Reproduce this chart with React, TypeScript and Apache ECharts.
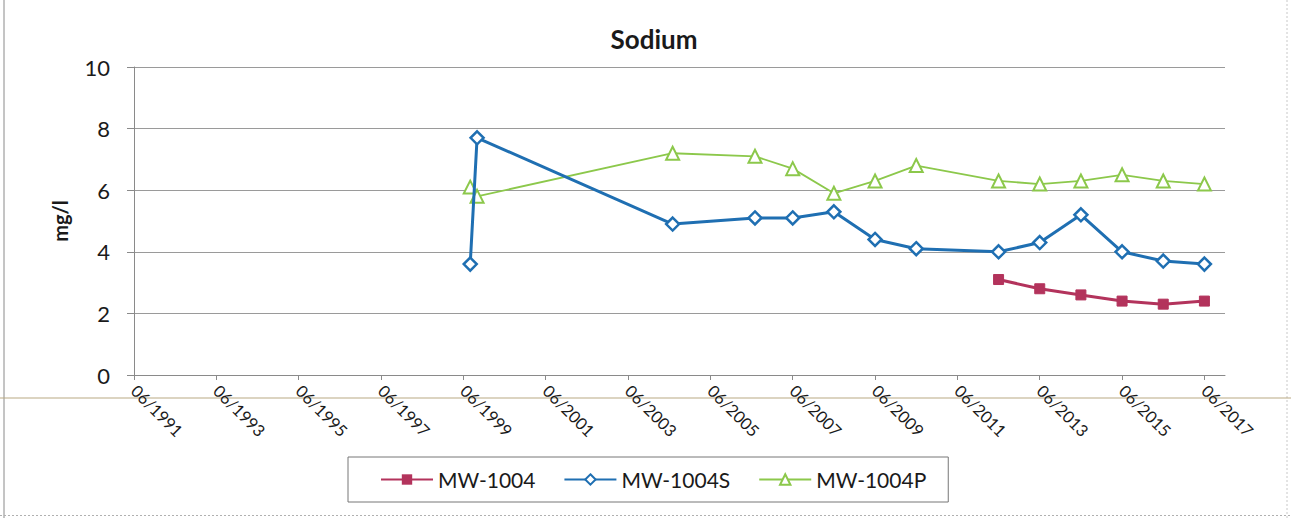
import React, { useEffect, useRef } from "react";
import * as echarts from "echarts";

const yTicks = [0, 2, 4, 6, 8, 10];
const xStartYear = 1991;
const xTickYears = [1991, 1993, 1995, 1997, 1999, 2001, 2003, 2005, 2007, 2009, 2011, 2013, 2015, 2017];
const xAxisEnd = "2017-12";

const mw1004Dates = ["2012-06", "2013-06", "2014-06", "2015-06", "2016-06", "2017-06"];
const mw1004Values = [3.1, 2.8, 2.6, 2.4, 2.3, 2.4];

const mw1004SDates = ["1999-08", "1999-10", "2004-07", "2006-07", "2007-06", "2008-06", "2009-06", "2010-06", "2012-06", "2013-06", "2014-06", "2015-06", "2016-06", "2017-06"];
const mw1004SValues = [3.6, 7.7, 4.9, 5.1, 5.1, 5.3, 4.4, 4.1, 4.0, 4.3, 5.2, 4.0, 3.7, 3.6];

const mw1004PDates = ["1999-08", "1999-10", "2004-07", "2006-07", "2007-06", "2008-06", "2009-06", "2010-06", "2012-06", "2013-06", "2014-06", "2015-06", "2016-06", "2017-06"];
const mw1004PValues = [6.1, 5.8, 7.2, 7.1, 6.7, 5.9, 6.3, 6.8, 6.3, 6.2, 6.3, 6.5, 6.3, 6.2];

const toMonths = (d: string) => {
  const [y, m] = d.split("-").map(Number);
  return (y - xStartYear) * 12 + (m - 6);
};
const pairs = (dates: string[], vals: number[]) => dates.map((d, i) => [toMonths(d), vals[i]]);
const xTickValues = xTickYears.map((y) => (y - xStartYear) * 12);

const FONT = "Lato, 'Open Sans', sans-serif";

export default function App() {
  const ref = useRef<HTMLDivElement>(null);
  useEffect(() => {
    if (!ref.current) return;
    const chart = echarts.init(ref.current, null, { renderer: "svg" });
    chart.setOption({
      animation: false,
      backgroundColor: "#ffffff",
      textStyle: { fontFamily: FONT },
      title: {
        text: "Sodium",
        left: 649,
        textAlign: "center",
        top: 21,
        textStyle: { fontFamily: FONT, fontSize: 26, fontWeight: "bold", color: "#1a1a1a" },
      },
      graphic: [
        { type: "line", shape: { x1: 4, y1: 0, x2: 4, y2: 518 }, style: { stroke: "#8a8a8a", lineWidth: 1 }, z: -1 },
        { type: "line", shape: { x1: 1287, y1: 0, x2: 1287, y2: 518 }, style: { stroke: "#c8c8c8", lineWidth: 1, lineDash: [2, 2] }, z: -1 },
        { type: "line", shape: { x1: 0, y1: 398, x2: 1291, y2: 398 }, style: { stroke: "#b9a983", lineWidth: 1 }, z: -1 },
        { type: "line", shape: { x1: 0, y1: 515.5, x2: 1291, y2: 515.5 }, style: { stroke: "#b0b0b0", lineWidth: 1, lineDash: [2, 2] }, z: -1 },
      ],
      grid: { left: 134, right: 66, top: 67, bottom: 143, containLabel: false },
      legend: {
        left: 348,
        top: 457,
        itemWidth: 52,
        itemHeight: 13,
        itemGap: 28,
        padding: [12, 22, 12, 32],
        borderColor: "#777777",
        borderWidth: 1,
        textStyle: { fontFamily: FONT, fontSize: 21, color: "#1a1a1a" },
        data: ["MW-1004", "MW-1004S", "MW-1004P"],
      },
      xAxis: {
        type: "value",
        min: 0,
        max: toMonths(xAxisEnd),
        interval: 24,
        axisLine: { show: true, onZero: false, lineStyle: { color: "#8a8a8a", width: 1 } },
        axisTick: { show: true, length: 5, customValues: xTickValues, lineStyle: { color: "#8a8a8a" } },
        splitLine: { show: false },
        axisLabel: {
          rotate: -45,
          margin: 13,
          fontFamily: FONT,
          fontSize: 16.5,
          color: "#1a1a1a",
          customValues: xTickValues,
          formatter: (v: number) => "06/" + (xStartYear + Math.round(v / 12)),
        },
      },
      yAxis: {
        type: "value",
        min: yTicks[0],
        max: yTicks[yTicks.length - 1],
        interval: 2,
        name: "mg/l",
        nameLocation: "middle",
        nameGap: 64,
        nameTextStyle: { fontFamily: FONT, fontSize: 20, fontWeight: "bold", color: "#1a1a1a" },
        axisLine: { show: true, lineStyle: { color: "#8a8a8a", width: 1 } },
        axisTick: { show: true, length: 7, lineStyle: { color: "#8a8a8a" } },
        splitLine: { show: true, lineStyle: { color: "#9a9a9a", width: 1 } },
        axisLabel: { margin: 24, fontFamily: FONT, fontSize: 22, color: "#1a1a1a" },
      },
      series: [
        {
          name: "MW-1004",
          type: "line",
          data: pairs(mw1004Dates, mw1004Values),
          color: "#b3335c",
          symbol: "rect",
          symbolSize: 10,
          lineStyle: { width: 3, color: "#b3335c" },
          itemStyle: { color: "#b3335c", borderColor: "#b3335c" },
          z: 3,
        },
        {
          name: "MW-1004S",
          type: "line",
          data: pairs(mw1004SDates, mw1004SValues),
          color: "#1f6fb2",
          symbol: "diamond",
          symbolSize: 13,
          lineStyle: { width: 3, color: "#1f6fb2" },
          itemStyle: { color: "#ffffff", borderColor: "#1f6fb2", borderWidth: 2.5 },
          z: 4,
        },
        {
          name: "MW-1004P",
          type: "line",
          data: pairs(mw1004PDates, mw1004PValues),
          color: "#8cc84b",
          symbol: "triangle",
          symbolSize: 13,
          lineStyle: { width: 1.8, color: "#8cc84b" },
          itemStyle: { color: "#ffffff", borderColor: "#8cc84b", borderWidth: 2 },
          z: 2,
        },
      ],
    });
    return () => chart.dispose();
  }, []);
  return <div ref={ref} style={{ position: "fixed", left: 0, top: 0, width: 1291, height: 518 }} />;
}
